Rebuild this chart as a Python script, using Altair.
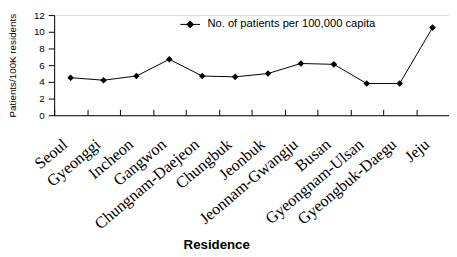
import altair as alt
import pandas as pd

regions = ["Seoul", "Gyeonggi", "Incheon", "Gangwon", "Chungnam-Daejeon", "Chungbuk",
           "Jeonbuk", "Jeonnam-Gwangju", "Busan", "Gyeongnam-Ulsan", "Gyeongbuk-Daegu", "Jeju"]
patients = [4.5, 4.2, 4.7, 6.7, 4.7, 4.6, 5.0, 6.2, 6.1, 3.8, 3.8, 10.5]
series_name = "No. of patients per 100,000 capita"
y_ticks = [0, 2, 4, 6, 8, 10, 12]

df = pd.DataFrame({"Residence": regions, "value": patients, "series": series_name})

legend_path = "M-1,0H1M0,-0.35L0.35,0L0,0.35L-0.35,0Z"

chart = alt.Chart(df).mark_line(
    strokeWidth=1,
    point=alt.OverlayMarkDef(filled=True, shape="diamond", size=45),
).encode(
    x=alt.X("Residence:N", sort=regions,
            scale=alt.Scale(paddingInner=0, paddingOuter=0),
            axis=alt.Axis(title="Residence", labelAngle=-40, tickBand="extent",
                          labelFont="Liberation Serif", labelFontSize=16.5, labelColor="black",
                          labelPadding=27, labelOffset=-11, labelLimit=0,
                          tickSize=alt.ExprRef("-6"),
                          titleFont="Liberation Sans", titleFontSize=13.5, titleFontWeight="bold",
                          titleColor="black", titleX=165, titleY=132, titleBaseline="middle",
                          domainColor="black", tickColor="black", grid=False)),
    y=alt.Y("value:Q", scale=alt.Scale(domain=[0, 12], nice=False),
            axis=alt.Axis(title="Patients/100K residents", values=y_ticks,
                          labelFont="Liberation Sans", labelFontSize=10, labelColor="black",
                          labelPadding=4, tickSize=6,
                          titleFont="Liberation Sans", titleFontSize=10, titleFontWeight="normal",
                          titleColor="black", titleX=-42, titleY=51, titleBaseline="middle",
                          domainColor="black", tickColor="black", grid=False)),
    color=alt.Color("series:N", scale=alt.Scale(range=["black"]),
                    legend=alt.Legend(title=None, orient="none", legendX=128, legendY=-1,
                                      symbolType=legend_path, symbolSize=400,
                                      symbolStrokeWidth=1, labelFont="Liberation Sans",
                                      labelFontSize=11.4, labelColor="black", labelOffset=7,
                                      labelLimit=0)),
).properties(
    width=402, height=102,
    autosize=alt.AutoSizeParams(type="none"),
    padding={"left": 47, "top": 5, "right": 0, "bottom": 136},
).configure_view(stroke=None).configure(background="white")

chart.save("out.html", embed_options={"renderer": "svg", "actions": False})
